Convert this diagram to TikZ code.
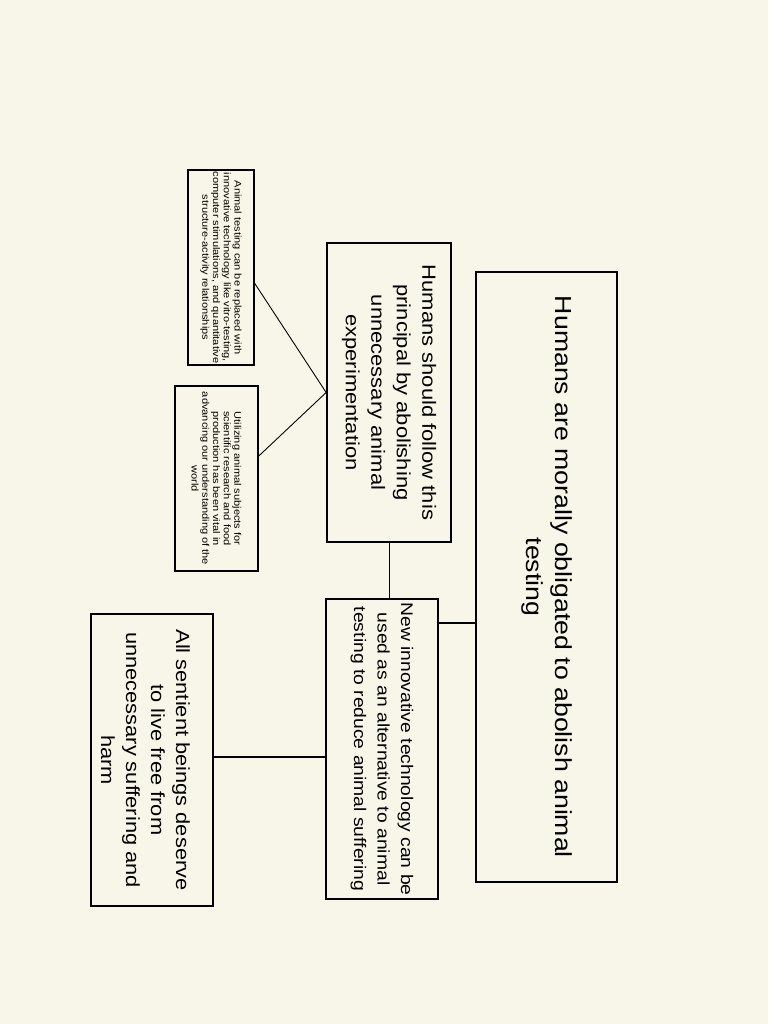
\documentclass[tikz,border=0pt]{standalone}
\usepackage{fontspec}
\setmainfont[FakeStretch=1.15]{Liberation Sans}
\usetikzlibrary{calc}
\definecolor{paper}{RGB}{248,246,233}
\tikzset{
  claim/.style={draw, line width=1.7pt, rotate=-90, align=center, inner sep=0pt},
  note/.style={draw, line width=1.2pt, rotate=-90, align=center, inner sep=0pt,
    font=\fontsize{9.6}{10.7}\selectfont},
  link/.style={line width=0.9pt},
  heavylink/.style={line width=1.6pt}
}
\begin{document}
\begin{tikzpicture}[x=1pt, y=-1pt]
  \fill[paper] (0,0) rectangle (768,1024);
  \useasboundingbox (0,0) rectangle (768,1024);
  % main claim and the three levels of support
  \node[claim, minimum width=610pt, minimum height=141pt, font=\fontsize{23.2}{29}\selectfont] (thesis) at (546.5,577)
    {Humans are morally obligated to abolish animal\\testing};
  \node[claim, minimum width=299pt, minimum height=124pt, font=\fontsize{19.1}{25.5}\selectfont] (principle) at (389,392.5)
    {Humans should follow this\\principal by abolishing\\unnecessary animal\\experimentation};
  \node[claim, minimum width=300pt, minimum height=112pt, font=\fontsize{16.8}{23.5}\selectfont] (newtech) at (382,749)
    {New innovative technology can be\\used as an alternative to animal\\testing to reduce animal suffering};
  \node[claim, minimum width=292pt, minimum height=122pt, font=\fontsize{19}{25}\selectfont] (sentient) at (152,760)
    {\rule{0pt}{27pt}All sentient beings deserve\\to live free from\\unnecessary suffering and\\harm};
  \node[note, minimum width=195pt, minimum height=66pt] (replace) at (221,267.5)
    {Animal testing can be replaced with\\innovative technology like vitro-testing,\\computer stimulations, and quantitative\\structure-activity relationships};
  \node[note, minimum width=185pt, minimum height=83pt] (research) at (216.5,478.5)
    {Utilizing animal subjects for\\scientific research and food\\production has been vital in\\advancing our understanding of the\\world};
  % connectors
  \coordinate (tn) at ($(newtech.north west)!0.083!(newtech.north east)$);
  \coordinate (ns) at ($(newtech.south west)!0.527!(newtech.south east)$);
  \draw[heavylink] (tn) -- (tn -| thesis.south);
  \draw[link] (principle.east) -- (principle.east |- newtech.west);
  \draw[heavylink] (ns) -- (ns -| sentient.north);
  \coordinate (rp) at ($(replace.north west)!0.58!(replace.north east)$);
  \coordinate (rs) at ($(research.north west)!0.38!(research.north east)$);
  \draw[link] (principle.south) -- (rp);
  \draw[link] (principle.south) -- (rs);
\end{tikzpicture}
\end{document}
